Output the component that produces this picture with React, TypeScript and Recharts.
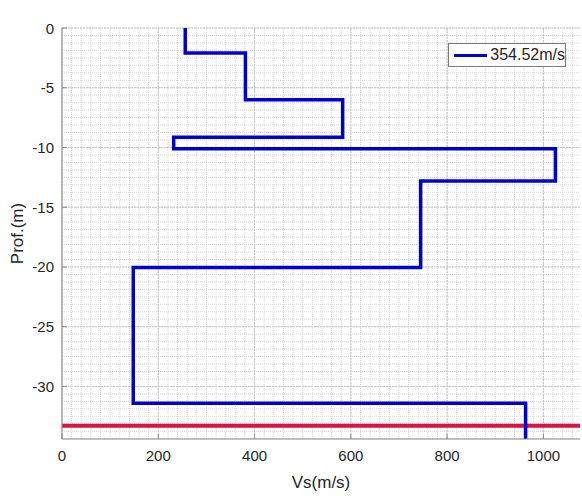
import {
  CartesianGrid,
  Label,
  Legend,
  Line,
  LineChart,
  ReferenceLine,
  XAxis,
  YAxis,
} from "recharts";

const titulo = "Vs8L_";
const nombreSerie = "354.52m/s";
const etiquetaX = "Vs(m/s)";
const etiquetaY = "Prof.(m)";

// Vs de cada capa y su techo / base en metros
const capasVs = [256, 381, 583, 232, 1025, 745, 148, 963];
const capasTecho = [0, 2.1, 6.0, 9.15, 10.1, 12.8, 20.05, 31.4];
const capasBase = [2.1, 6.0, 9.15, 10.1, 12.8, 20.05, 31.4, 35];
const profundidadLimite = -33.3;

const ticksX = [0, 200, 400, 600, 800, 1000];
const ticksY = [-30, -25, -20, -15, -10, -5, 0];
const dominioX: [number, number] = [0, 1076];
const dominioY: [number, number] = [-34.4, 0];

const perfil = capasVs.flatMap((vs, i) => [
  { vs, prof: -capasTecho[i] },
  { vs, prof: -capasBase[i] },
]);

const gridMenorX = Array.from({ length: 54 }, (_, i) => i * 20);
const gridMenorY = Array.from({ length: 56 }, (_, i) => -i * 0.625);

const fuente = '"Liberation Sans", Arial, sans-serif';
const colorEje = "#8a8a8a";
const colorTexto = "#262626";

// el generador por defecto descarta líneas muy juntas; se ubican con el offset del gráfico
const lineasX = (valores: number[]) => ({ xAxis, offset }: any) =>
  valores.map((v) =>
    typeof xAxis?.scale === "function"
      ? xAxis.scale(v)
      : offset.left + ((v - dominioX[0]) / (dominioX[1] - dominioX[0])) * offset.width
  );
const lineasY = (valores: number[]) => ({ yAxis, offset }: any) =>
  valores.map((v) =>
    typeof yAxis?.scale === "function"
      ? yAxis.scale(v)
      : offset.top + ((dominioY[1] - v) / (dominioY[1] - dominioY[0])) * offset.height
  );

function TickAbajo({ x, y, payload }: any) {
  return (
    <g>
      <line x1={x} y1={y} x2={x} y2={y - 5} stroke={colorEje} />
      <text x={x} y={y + 22} textAnchor="middle" fill={colorTexto} fontSize={15}>
        {payload.value}
      </text>
    </g>
  );
}

function TickIzq({ x, y, payload }: any) {
  return (
    <g>
      <line x1={x} y1={y} x2={x + 5} y2={y} stroke={colorEje} />
      <text x={x - 8} y={y + 5.5} textAnchor="end" fill={colorTexto} fontSize={15}>
        {payload.value}
      </text>
    </g>
  );
}

function TickArriba({ x, y }: any) {
  return <line x1={x} y1={y} x2={x} y2={y + 5} stroke={colorEje} />;
}

function TickDer({ x, y }: any) {
  return <line x1={x} y1={y} x2={x - 5} y2={y} stroke={colorEje} />;
}

function Leyenda({ payload }: any) {
  const item = payload?.[0];
  if (!item) return null;
  return (
    <div
      style={{
        width: 116,
        height: 22,
        border: "1px solid #7a7a7a",
        background: "#fff",
        display: "flex",
        alignItems: "center",
        fontFamily: fuente,
        fontSize: 16,
        color: colorTexto,
      }}
    >
      <span
        style={{
          display: "inline-block",
          width: 36,
          height: 3,
          background: item.color,
          marginLeft: 5,
          marginRight: 3,
        }}
      />
      {item.value}
    </div>
  );
}

export default function App() {
  return (
    <div style={{ position: "absolute", left: 0, top: 0, background: "#fff" }}>
      <LineChart
        width={582}
        height={496}
        data={perfil}
        margin={{ top: 28, right: 2, left: 0, bottom: 0 }}
        style={{ fontFamily: fuente }}
      >
        <CartesianGrid
          verticalCoordinatesGenerator={lineasX(gridMenorX)}
          horizontalCoordinatesGenerator={lineasY(gridMenorY)}
          stroke="#d6d6d6"
          strokeDasharray="1 1"
        />
        <CartesianGrid
          verticalCoordinatesGenerator={lineasX(ticksX)}
          horizontalCoordinatesGenerator={lineasY(ticksY)}
          stroke="#c4c4c4"
          strokeDasharray="2 1"
        />
        <XAxis
          type="number"
          dataKey="vs"
          domain={dominioX}
          ticks={ticksX}
          allowDataOverflow
          height={57}
          tickSize={0}
          tickMargin={0}
          tickLine={false}
          tick={<TickAbajo />}
          axisLine={{ stroke: colorEje }}
        >
          <Label
            content={({ viewBox }: any) => (
              <text
                x={viewBox.x + viewBox.width / 2}
                y={488}
                textAnchor="middle"
                fill={colorTexto}
                fontSize={17}
              >
                {etiquetaX}
              </text>
            )}
          />
        </XAxis>
        <XAxis
          xAxisId="arriba"
          orientation="top"
          type="number"
          dataKey="vs"
          domain={dominioX}
          ticks={ticksX}
          allowDataOverflow
          height={0}
          tickSize={0}
          tickMargin={0}
          tickLine={false}
          tick={<TickArriba />}
          axisLine={{ stroke: colorEje }}
        >
          <Label
            content={({ viewBox }: any) => (
              <text
                x={viewBox.x + viewBox.width / 2}
                y={viewBox.y - 6}
                textAnchor="middle"
                fill="#000"
                fontSize={18}
                fontWeight="bold"
              >
                {titulo}
              </text>
            )}
          />
        </XAxis>
        <YAxis
          type="number"
          dataKey="prof"
          domain={dominioY}
          ticks={ticksY}
          allowDataOverflow
          width={62}
          tickSize={0}
          tickMargin={0}
          tickLine={false}
          tick={<TickIzq />}
          axisLine={{ stroke: colorEje }}
        >
          <Label
            content={({ viewBox }: any) => {
              const cy = viewBox.y + viewBox.height / 2;
              return (
                <text
                  x={23}
                  y={cy}
                  transform={`rotate(-90, 23, ${cy})`}
                  textAnchor="middle"
                  fill={colorTexto}
                  fontSize={17}
                >
                  {etiquetaY}
                </text>
              );
            }}
          />
        </YAxis>
        <YAxis
          yAxisId="der"
          orientation="right"
          type="number"
          dataKey="prof"
          domain={dominioY}
          ticks={ticksY}
          allowDataOverflow
          width={0}
          tickSize={0}
          tickMargin={0}
          tickLine={false}
          tick={<TickDer />}
          axisLine={{ stroke: colorEje }}
        />
        <ReferenceLine y={profundidadLimite} stroke="#dc143c" strokeWidth={4} />
        <Line
          type="linear"
          dataKey="prof"
          name={nombreSerie}
          stroke="#0000cd"
          strokeWidth={3.5}
          strokeLinejoin="miter"
          dot={false}
          activeDot={false}
          isAnimationActive={false}
        />
        <Legend
          layout="vertical"
          align="center"
          verticalAlign="middle"
          content={<Leyenda />}
          wrapperStyle={{ top: 43, left: 448, width: "auto" }}
        />
      </LineChart>
    </div>
  );
}
